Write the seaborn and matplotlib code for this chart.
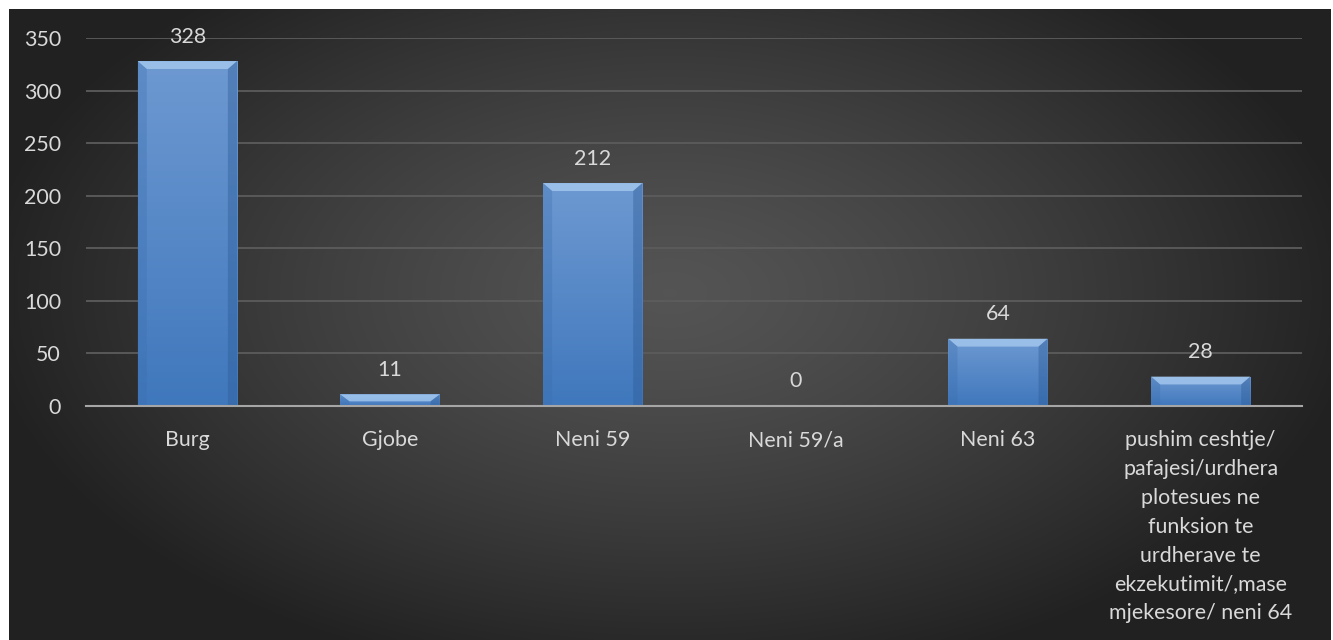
import numpy as np
import pandas as pd
import seaborn as sns
import matplotlib.pyplot as plt
from matplotlib.patches import Polygon

# dados do grafico
categorias = ['Burg', 'Gjobe', 'Neni 59', 'Neni 59/a', 'Neni 63',
              'pushim ceshtje/\npafajesi/urdhera\nplotesues ne\nfunksion te\nurdherave te\nekzekutimit/,mase\nmjekesore/ neni 64']
valores = [328, 11, 212, 0, 64, 28]
y_ticks = [0, 50, 100, 150, 200, 250, 300, 350]

df = pd.DataFrame({'categoria': categorias, 'valor': valores})

sns.set_theme(style='white')
plt.rcParams['font.family'] = ['Lato', 'DejaVu Sans']
texto = '#d9d9d9'
fs = 15.4

fig = plt.figure(figsize=(13.33, 6.4), dpi=100, facecolor='white')

# fundo com gradiente radial
bg = fig.add_axes([9 / 1333, 0, 1322 / 1333, 631 / 640], zorder=0)
yy, xx = np.mgrid[0:1:300j, 0:1:600j]
d = np.sqrt(((xx - 0.5) / 0.75) ** 2 + ((yy - 0.55) / 0.9) ** 2)
d = np.clip(d / 0.7, 0, 1)
g = 0.33 - 0.2 * d ** 1.3
img = np.dstack([g, g, g])
bg.imshow(img, aspect='auto', extent=[0, 1, 0, 1], origin='lower', interpolation='bicubic')
bg.axis('off')

ax = fig.add_axes([86 / 1333, (640 - 406) / 640, (1302 - 86) / 1333, (406 - 38) / 640], zorder=1)
ax.patch.set_alpha(0)

sns.barplot(data=df, x='categoria', y='valor', color='#4f86c6', width=0.49,
            saturation=1, ax=ax, zorder=3, edgecolor='none')

ax.set_ylim(0, 350)
ax.set_xlim(-0.5, len(categorias) - 0.5)
ax.set_yticks(y_ticks)
ax.yaxis.grid(True, color='#5c5c5c', linewidth=1.3)
ax.set_axisbelow(True)
for s in ['top', 'right', 'left']:
    ax.spines[s].set_visible(False)
ax.spines['bottom'].set_color('#a6a6a6')
ax.spines['bottom'].set_linewidth(1.5)
ax.spines['bottom'].set_zorder(5)

ax.set_xlabel('')
ax.set_ylabel('')
ax.tick_params(axis='y', length=0, labelsize=fs, labelcolor=texto, pad=18)
ax.tick_params(axis='x', which='major', length=0, labelsize=fs, labelcolor=texto, pad=17.5)
ax.set_xticks(np.arange(-0.5, len(categorias), 1), minor=True)
ax.tick_params(axis='x', which='minor', length=6, width=1.5, color='#a6a6a6', direction='out')
for lab in ax.get_xticklabels():
    lab.set_linespacing(1.55)

# gradiente e chanfro nas barras
grad = np.linspace(0, 1, 100).reshape(-1, 1)
top_c = np.array([0.43, 0.60, 0.82])
bot_c = np.array([0.25, 0.47, 0.74])
bevel_y = 7.5
for p in ax.patches:
    x0, y0 = p.get_x(), p.get_y()
    w, h = p.get_width(), p.get_height()
    if h <= 0:
        continue
    cols = bot_c + (top_c - bot_c) * grad
    im = ax.imshow(cols.reshape(100, 1, 3), extent=[x0, x0 + w, y0, y0 + h],
                   origin='lower', aspect='auto', zorder=3.5)
    im.set_clip_path(p)
    b = min(bevel_y, h * 0.6)
    bx = 0.045
    top = Polygon([[x0, y0 + h], [x0 + w, y0 + h], [x0 + w - bx, y0 + h - b], [x0 + bx, y0 + h - b]],
                  closed=True, facecolor='#a9cdf2', alpha=0.75, edgecolor='none', zorder=4)
    ax.add_patch(top)
    left = Polygon([[x0, y0 + h], [x0 + bx, y0 + h - b], [x0 + bx, y0], [x0, y0]],
                   closed=True, facecolor='#3a6dad', alpha=0.3, edgecolor='none', zorder=4)
    right = Polygon([[x0 + w, y0 + h], [x0 + w - bx, y0 + h - b], [x0 + w - bx, y0], [x0 + w, y0]],
                    closed=True, facecolor='#2c5a94', alpha=0.4, edgecolor='none', zorder=4)
    ax.add_patch(left)
    ax.add_patch(right)

ax.set_xlim(-0.5, len(categorias) - 0.5)
ax.set_ylim(0, 350)

# rotulos de valor
for i, v in enumerate(valores):
    ax.annotate(str(v), (i, v), xytext=(0, 10.5), textcoords='offset points',
                ha='center', va='bottom', fontsize=fs, color=texto, zorder=6)

fig.savefig('out.png', dpi=100, facecolor='white')
